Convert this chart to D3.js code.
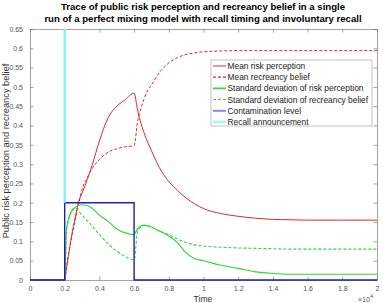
<!DOCTYPE html>
<html>
<head>
<meta charset="utf-8">
<script src="https://cdn.jsdelivr.net/npm/d3@7"></script>
<style>
  body { margin: 0; background: #fff; }
  text { font-family: "Liberation Sans", Arial, sans-serif; }
</style>
</head>
<body>
<div id="chart"></div>
<script>
// time in units of 10^4
const time = [0, 0.2, 0.21, 0.22, 0.24, 0.26, 0.28, 0.3, 0.33, 0.36, 0.4, 0.45, 0.5, 0.55, 0.6,
              0.62, 0.64, 0.66, 0.68, 0.7, 0.73, 0.76, 0.8, 0.85, 0.9, 0.95, 1.0, 1.1, 1.2, 1.3,
              1.4, 1.5, 1.6, 1.8, 2.0];

const meanRisk = [0, 0, 0.03, 0.06, 0.115, 0.16, 0.203, 0.225, 0.26, 0.3, 0.36, 0.42, 0.45, 0.467, 0.484,
                  0.44, 0.405, 0.378, 0.355, 0.335, 0.305, 0.28, 0.255, 0.232, 0.212, 0.197, 0.185, 0.172, 0.165, 0.16,
                  0.157, 0.156, 0.155, 0.155, 0.155];

const meanRecreancy = [0, 0, 0.03, 0.06, 0.11, 0.155, 0.195, 0.235, 0.265, 0.29, 0.312, 0.331, 0.34, 0.345, 0.348,
                       0.41, 0.445, 0.472, 0.492, 0.505, 0.527, 0.545, 0.562, 0.576, 0.584, 0.588, 0.591, 0.593, 0.594, 0.594,
                       0.594, 0.594, 0.594, 0.594, 0.594];

const sdRisk = [0, 0, 0.13, 0.155, 0.178, 0.188, 0.193, 0.195, 0.193, 0.185, 0.168, 0.152, 0.132, 0.122, 0.118,
                0.133, 0.14, 0.142, 0.14, 0.137, 0.13, 0.124, 0.114, 0.097, 0.07, 0.055, 0.05, 0.038, 0.03, 0.021,
                0.017, 0.015, 0.015, 0.015, 0.015];

const sdRecreancy = [0, 0, 0.125, 0.15, 0.18, 0.186, 0.178, 0.168, 0.154, 0.138, 0.118, 0.094, 0.075, 0.061, 0.052,
                     0.125, 0.138, 0.141, 0.14, 0.137, 0.13, 0.124, 0.117, 0.106, 0.097, 0.091, 0.088, 0.085, 0.083, 0.082,
                     0.081, 0.08, 0.08, 0.08, 0.08];

const contamTime  = [0, 0.2, 0.2, 0.6, 0.6, 2];
const contamLevel = [0, 0, 0.2, 0.2, 0, 0];

const recallTime  = [0.2, 0.2];
const recallLevel = [0.2, 0.65];

const xTicks = [0, 0.2, 0.4, 0.6, 0.8, 1, 1.2, 1.4, 1.6, 1.8, 2];
const yTicks = d3.range(0, 14).map(i => +(i * 0.05).toFixed(2));

const legendLabels = ["Mean risk perception", "Mean recreancy belief",
                      "Standard deviation of risk perception", "Standard deviation of recreancy belief",
                      "Contamination level", "Recall announcement"];

const red = "#e02828", green = "#2fd82f", blue = "#1c1cc8", cyan = "#80f2f2";

const W = 383, H = 303;
const plot = { left: 30, right: 377, top: 29, bottom: 280 };

const svg = d3.select("#chart").append("svg")
              .attr("width", W)
              .attr("height", H);

const x = d3.scaleLinear().domain([0, 2]).range([plot.left, plot.right]);
const y = d3.scaleLinear().domain([0, 0.65]).range([plot.bottom, plot.top]);

// title
svg.append("text")
   .attr("x", 203).attr("y", 10)
   .attr("text-anchor", "middle")
   .attr("font-size", "9.6px").attr("font-weight", "bold")
   .text("Trace of public risk perception and recreancy belief in a single");
svg.append("text")
   .attr("x", 203).attr("y", 21.5)
   .attr("text-anchor", "middle")
   .attr("font-size", "9.6px").attr("font-weight", "bold")
   .text("run of a perfect mixing model with recall timing and involuntary recall");

// axes (MATLAB style box, ticks inward)
const tickLen = 3.5;
const axisColor = "#666";

svg.append("g")
   .attr("transform", `translate(0, ${plot.bottom})`)
   .call(d3.axisBottom(x).tickValues(xTicks).tickSizeInner(-tickLen).tickSizeOuter(0).tickPadding(6)
           .tickFormat(d => d3.format("~g")(d)));
svg.append("g")
   .attr("transform", `translate(0, ${plot.top})`)
   .call(d3.axisTop(x).tickValues(xTicks).tickSizeInner(-tickLen).tickSizeOuter(0).tickFormat(""));
svg.append("g")
   .attr("transform", `translate(${plot.left}, 0)`)
   .call(d3.axisLeft(y).tickValues(yTicks).tickSizeInner(-tickLen).tickSizeOuter(0).tickPadding(7)
           .tickFormat(d => d3.format("~g")(d)));
svg.append("g")
   .attr("transform", `translate(${plot.right}, 0)`)
   .call(d3.axisRight(y).tickValues(yTicks).tickSizeInner(-tickLen).tickSizeOuter(0).tickFormat(""));

svg.selectAll(".domain, .tick line")
   .attr("stroke", axisColor).attr("stroke-width", 0.6);
svg.selectAll(".tick text")
   .attr("fill", "#555").attr("font-size", "7px")
   .attr("font-family", "Liberation Sans, Arial, sans-serif");

// axis labels
svg.append("text")
   .attr("x", 203).attr("y", 302)
   .attr("text-anchor", "middle")
   .attr("font-size", "8.6px").attr("fill", "#333")
   .text("Time");

const expo = svg.append("text")
   .attr("x", 358).attr("y", 301.5)
   .attr("font-size", "7px").attr("fill", "#555");
expo.append("tspan").text("×10");
expo.append("tspan").attr("dy", -4).attr("font-size", "5.5px").text("4");

svg.append("text")
   .attr("transform", `translate(9, 151) rotate(-90)`)
   .attr("text-anchor", "middle")
   .attr("font-size", "9.3px").attr("fill", "#333")
   .text("Public risk perception and recreancy belief");

// lines
const line = d3.line()
               .x(d => x(d[0]))
               .y(d => y(d[1]))
               .curve(d3.curveMonotoneX);
const straight = d3.line()
               .x(d => x(d[0]))
               .y(d => y(d[1]));

const series = [
  { values: meanRisk,      color: red,   dash: null,  width: 1 },
  { values: meanRecreancy, color: red,   dash: "3,2", width: 1 },
  { values: sdRisk,        color: green, dash: null,  width: 1.1 },
  { values: sdRecreancy,   color: green, dash: "3,2", width: 1.1 }
];

series.forEach(s => {
  svg.append("path")
     .datum(d3.zip(time, s.values))
     .attr("fill", "none")
     .attr("stroke", s.color)
     .attr("stroke-width", s.width)
     .attr("stroke-dasharray", s.dash)
     .attr("d", line);
});

svg.append("path")
   .datum(d3.zip(contamTime, contamLevel))
   .attr("fill", "none")
   .attr("stroke", blue)
   .attr("stroke-width", 1.4)
   .attr("d", straight);

svg.append("path")
   .datum(d3.zip(recallTime, recallLevel))
   .attr("fill", "none")
   .attr("stroke", cyan)
   .attr("stroke-width", 2.4)
   .attr("d", straight);

// legend
const legend = svg.append("g").attr("transform", "translate(211, 60)");
legend.append("rect")
      .attr("width", 161).attr("height", 66)
      .attr("fill", "#fff")
      .attr("stroke", "#999").attr("stroke-width", 0.6);

const legendStyles = [
  { color: red,       dash: null,  width: 1 },
  { color: red,       dash: "3,2", width: 1.2 },
  { color: "#3ddc3d", dash: null,  width: 1.8 },
  { color: green,     dash: "3,2", width: 1 },
  { color: "#8a8ae0", dash: null,  width: 2 },
  { color: "#a6f6f6", dash: null,  width: 2.6 }
];

legendLabels.forEach((label, i) => {
  const row = legend.append("g").attr("transform", `translate(0, ${6 + i * 11.2})`);
  row.append("line")
     .attr("x1", 2).attr("x2", 15)
     .attr("stroke", legendStyles[i].color)
     .attr("stroke-width", legendStyles[i].width)
     .attr("stroke-dasharray", legendStyles[i].dash);
  row.append("text")
     .attr("x", 16.5).attr("dy", "0.35em")
     .attr("font-size", "8.4px").attr("fill", "#222")
     .text(label);
});
</script>
</body>
</html>
